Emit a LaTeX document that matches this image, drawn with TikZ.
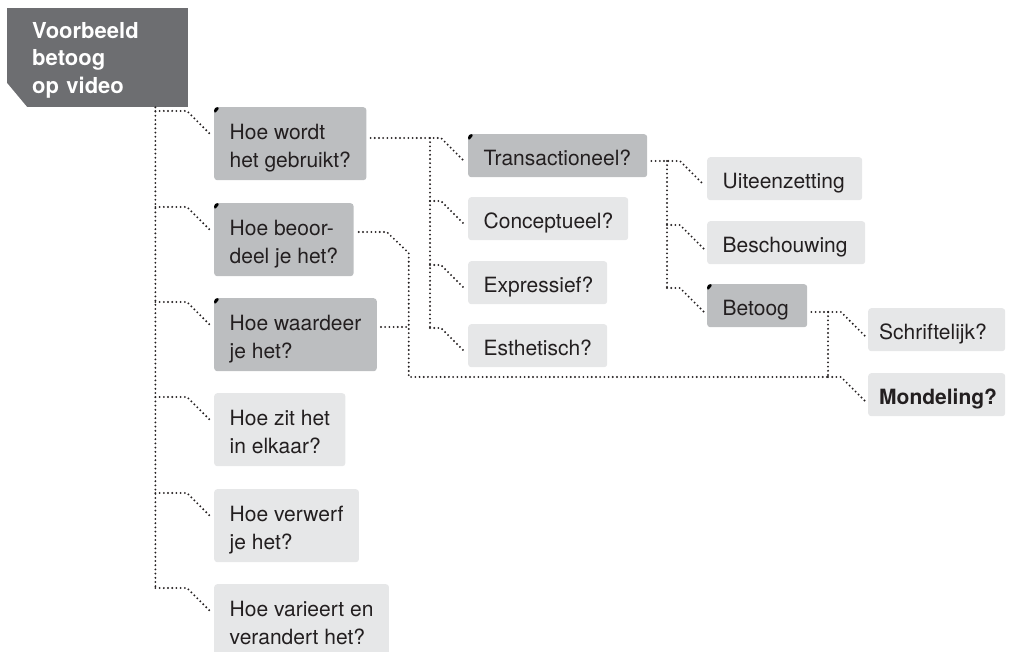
\documentclass[tikz,border=0pt]{standalone}
\usepackage{fontspec}
\setmainfont{TeX Gyre Heros}
\usetikzlibrary{calc}

\definecolor{ink}{HTML}{231F20}
\definecolor{rootgrey}{HTML}{6D6E71}
\definecolor{darkbox}{HTML}{BCBEC0}
\definecolor{lightbox}{HTML}{E6E7E8}

\hyphenpenalty=10000

% dotted elbow from a trunk to a child box
\newcommand{\branchto}[2]{%
  \draw[link] ($(#1 |- #2.north west)+(0,4)$) -- ($(#2.north west)+(-27,4)$)
    -- ($(#2.north west)+(-3,28)$);}

\tikzset{
  box/.style={rounded corners=3pt, anchor=north west, align=left, text=ink,
    inner xsep=15.5pt, inner ysep=0pt, text height=31pt, text depth=12pt,
    font=\fontsize{21}{28}\selectfont},
  two/.style={text height=60pt, text depth=13pt},
  pale/.style={box, fill=lightbox},
  tab/.style={box, fill=darkbox, path picture={
    \fill[black] (path picture bounding box.north west) -- ++(6pt,0pt)
      -- ++(-6pt,-7pt) -- cycle;}},
  root/.style={fill=rootgrey, text=white, anchor=north west, align=left,
    inner xsep=25pt, inner ysep=0pt, text width=131pt,
    text height=30pt, text depth=69pt,
    font=\bfseries\fontsize{22}{27.5}\selectfont,
    path picture={
    \fill[white] (path picture bounding box.south west) -- ++(20pt,0pt)
      -- ++(-20pt,24pt) -- cycle;}},
  link/.style={draw=ink, line width=2.1pt, line cap=round,
    dash pattern=on 0pt off 4.2pt}
}

\begin{document}
\begin{tikzpicture}[x=1pt, y=-1pt, line join=round]
  \useasboundingbox (0,0) rectangle (1010,652);

  \node[root] (root) at (7,8) {Voorbeeld\\betoog\\op video};

  % first level
  \node[tab, two] (wordt) at (214,107) {Hoe wordt\\het gebruikt?};
  \node[tab, two] (beoordeel) at (214,203) {Hoe beoor-\\deel je het?};
  \node[tab, two] (waardeer) at (214,298) {Hoe waardeer\\je het?};
  \node[pale, two] (zit) at (214,393) {Hoe zit het\\in elkaar?};
  \node[pale, two] (verwerf) at (214,489) {Hoe verwerf\\je het?};
  \node[pale, two] (varieert) at (214,584) {Hoe varieert en\\verandert het?};

  % second level
  \node[tab, text width=148pt] (trans) at (468,134) {Transactioneel?};
  \node[pale, text width=129pt] (concept) at (468,197) {Conceptueel?};
  \node[pale, text width=108pt] (express) at (468,261) {Expressief?};
  \node[pale, text width=108pt] (esthet) at (468,324) {Esthetisch?};

  % third level
  \node[pale, text width=124pt] (uiteen) at (707,157) {Uiteenzetting};
  \node[pale, text width=127pt] (besch) at (707,221) {Beschouwing};
  \node[tab, text width=69pt] (betoog) at (707,284) {Betoog};

  % fourth level
  \node[pale, inner xsep=11pt, text width=115pt] (schrift) at (868,308) {Schriftelijk?};
  \node[pale, inner xsep=11pt, text width=115pt] (mond) at (868,373) {\textbf{Mondeling?}};

  % trunks
  \coordinate (t1) at ([xshift=-33pt]root.south east);
  \coordinate (t2) at ($(trans.north west)+(-38,4)$);
  \coordinate (t3) at ($(uiteen.north west)+(-40,4)$);
  \coordinate (t4) at ($(schrift.north west)+(-40,4)$);
  \coordinate (t5) at ($(beoordeel.north east)+(55,50)$);

  \draw[link] (t1) -- ($(t1 |- varieert.north west)+(0,4)$);
  \foreach \c in {wordt,beoordeel,waardeer,zit,verwerf,varieert}
    \branchto{t1}{\c};

  \draw[link] ($(wordt.east |- trans.north west)+(4,4)$) -- ($(trans.north west)+(-27,4)$)
    -- ($(trans.north west)+(-3,28)$);
  \draw[link] (t2) -- ($(t2 |- esthet.north west)+(0,4)$);
  \foreach \c in {concept,express,esthet}
    \branchto{t2}{\c};

  \draw[link] ($(trans.east |- uiteen.north west)+(4,4)$) -- ($(uiteen.north west)+(-27,4)$)
    -- ($(uiteen.north west)+(-3,28)$);
  \draw[link] (t3) -- ($(t3 |- betoog.north west)+(0,4)$);
  \foreach \c in {besch,betoog}
    \branchto{t3}{\c};

  \draw[link] ($(betoog.east |- schrift.north west)+(4,4)$) -- ($(schrift.north west)+(-27,4)$)
    -- ($(schrift.north west)+(-3,28)$);
  \draw[link] (t4) -- ($(t4 |- mond.north west)+(0,4)$);
  \branchto{t4}{mond};

  \draw[link] ($(beoordeel.north east)+(5,29)$) -- ++(28,0) -- (t5)
    |- ($(t4 |- mond.north west)+(0,4)$);
  \draw[link] ($(waardeer.north east)+(4,29)$) -- ($(t5 |- waardeer.north east)+(0,29)$);
\end{tikzpicture}
\end{document}
